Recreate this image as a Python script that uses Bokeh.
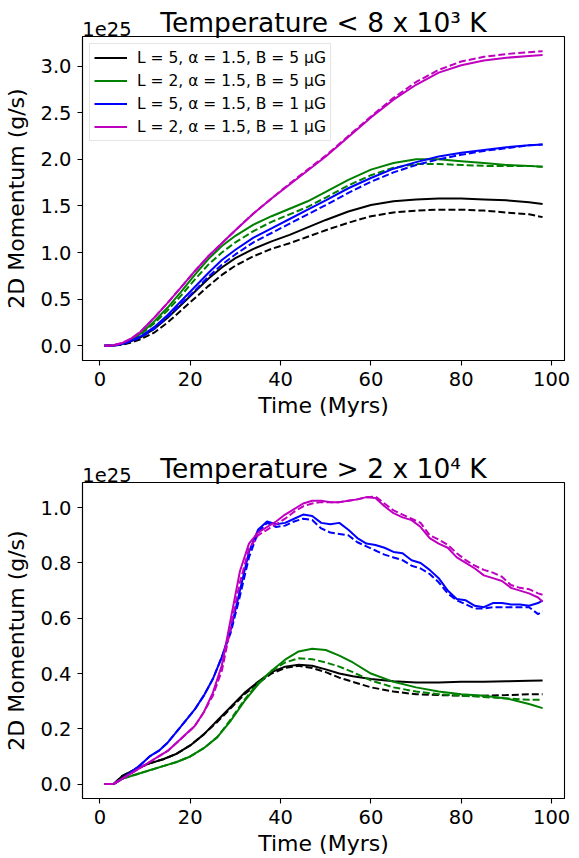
from bokeh.plotting import figure
from bokeh.models import (Range1d, FixedTicker, NumeralTickFormatter, Legend, LegendItem,
                          LinearAxis)
from bokeh.layouts import column
from bokeh.embed import file_html
from bokeh.resources import INLINE

# ---------------- data (units of 1e25 g/s) ----------------
series_labels = [
    "L = 5, α = 1.5, B = 5 μG",
    "L = 2, α = 1.5, B = 5 μG",
    "L = 5, α = 1.5, B = 1 μG",
    "L = 2, α = 1.5, B = 1 μG",
]
colors = ["#000000", "#008000", "#0000ff", "#bf00bf"]

x_ticks = [0, 20, 40, 60, 80, 100]
top_y_ticks = [0.0, 0.5, 1.0, 1.5, 2.0, 2.5, 3.0]
bot_y_ticks = [0.0, 0.2, 0.4, 0.6, 0.8, 1.0]
offset_text = "1e25"

# Top panel: Temperature < 8e3 K
t_top = [1, 3, 5, 7, 9, 12, 15, 18, 21, 24, 27, 30, 34, 38, 42, 46, 50, 55, 60, 65, 70, 75, 80, 85, 90, 95, 98]
top_k_solid = [0, 0.003, 0.018, 0.05, 0.09, 0.18, 0.3, 0.44, 0.58, 0.72, 0.84, 0.94, 1.04, 1.12, 1.19, 1.27, 1.35, 1.44, 1.51, 1.55, 1.57, 1.58, 1.58, 1.57, 1.56, 1.54, 1.52]
top_k_dash = [0, 0.002, 0.012, 0.035, 0.07, 0.14, 0.25, 0.38, 0.51, 0.64, 0.76, 0.86, 0.96, 1.04, 1.1, 1.17, 1.24, 1.32, 1.39, 1.43, 1.45, 1.46, 1.46, 1.45, 1.43, 1.41, 1.38]
top_g_solid = [0, 0.005, 0.025, 0.07, 0.13, 0.26, 0.41, 0.58, 0.76, 0.93, 1.07, 1.18, 1.3, 1.39, 1.47, 1.55, 1.65, 1.78, 1.89, 1.96, 2.0, 2.0, 1.98, 1.96, 1.94, 1.93, 1.92]
top_g_dash = [0, 0.004, 0.02, 0.06, 0.12, 0.24, 0.38, 0.54, 0.71, 0.87, 1.0, 1.11, 1.23, 1.33, 1.41, 1.49, 1.59, 1.72, 1.83, 1.91, 1.95, 1.95, 1.94, 1.93, 1.93, 1.93, 1.92]
top_b_solid = [0, 0.004, 0.02, 0.055, 0.1, 0.2, 0.33, 0.48, 0.63, 0.78, 0.92, 1.03, 1.16, 1.26, 1.36, 1.46, 1.56, 1.69, 1.8, 1.9, 1.97, 2.03, 2.07, 2.1, 2.13, 2.15, 2.16]
top_b_dash = [0, 0.003, 0.018, 0.05, 0.09, 0.18, 0.31, 0.45, 0.59, 0.74, 0.87, 0.98, 1.11, 1.21, 1.31, 1.41, 1.51, 1.64, 1.76, 1.86, 1.94, 2.0, 2.05, 2.09, 2.12, 2.15, 2.16]
top_m_solid = [0, 0.005, 0.03, 0.08, 0.15, 0.3, 0.46, 0.63, 0.8, 0.96, 1.1, 1.24, 1.42, 1.58, 1.73, 1.88, 2.03, 2.24, 2.45, 2.64, 2.8, 2.93, 3.01, 3.06, 3.09, 3.11, 3.12]
top_m_dash = [0, 0.005, 0.03, 0.08, 0.15, 0.3, 0.46, 0.63, 0.8, 0.96, 1.1, 1.24, 1.42, 1.58, 1.74, 1.89, 2.04, 2.25, 2.46, 2.66, 2.83, 2.96, 3.05, 3.1, 3.13, 3.15, 3.16]

# Bottom panel: Temperature > 2e4 K
t_bot_c = [1, 3, 5, 8, 11, 14, 17, 20, 23, 26, 29, 32, 35, 38, 41, 44, 47, 50, 53, 56, 60, 65, 70, 75, 80, 85, 90, 95, 98]
bot_k_solid = [0, 0, 0.03, 0.055, 0.075, 0.09, 0.11, 0.14, 0.18, 0.23, 0.28, 0.33, 0.37, 0.405, 0.425, 0.432, 0.428, 0.415, 0.4, 0.39, 0.38, 0.372, 0.368, 0.368, 0.37, 0.37, 0.372, 0.374, 0.375]
bot_k_dash = [0, 0, 0.03, 0.055, 0.075, 0.09, 0.11, 0.14, 0.18, 0.225, 0.275, 0.325, 0.365, 0.4, 0.42, 0.428, 0.42, 0.405, 0.385, 0.37, 0.35, 0.335, 0.325, 0.322, 0.32, 0.32, 0.322, 0.325, 0.325]
bot_g_solid = [0, 0, 0.02, 0.035, 0.05, 0.065, 0.08, 0.1, 0.13, 0.17, 0.23, 0.3, 0.36, 0.41, 0.45, 0.48, 0.49, 0.485, 0.465, 0.44, 0.4, 0.37, 0.35, 0.335, 0.325, 0.32, 0.31, 0.29, 0.275]
bot_g_dash = [0, 0, 0.02, 0.035, 0.05, 0.065, 0.08, 0.1, 0.13, 0.17, 0.235, 0.305, 0.365, 0.41, 0.44, 0.455, 0.452, 0.44, 0.425, 0.405, 0.375, 0.35, 0.335, 0.325, 0.32, 0.315, 0.31, 0.305, 0.305]

t_bot_f = [1, 3, 5, 7, 9, 11, 13, 15, 17, 19, 21, 23, 25, 27, 29, 31, 33, 35, 37, 39, 41, 43, 45, 47, 49,
           51, 53, 55, 57, 59, 61, 63, 65, 67, 69, 71, 73, 75, 77, 79, 81, 83, 85, 87, 89, 91, 93, 95, 97, 98]
bot_b_solid = [0, 0, 0.02, 0.045, 0.07, 0.1, 0.12, 0.15, 0.19, 0.23, 0.27, 0.32, 0.38, 0.46, 0.56, 0.7, 0.84, 0.92, 0.95, 0.94, 0.945, 0.96, 0.975, 0.97, 0.945,
               0.94, 0.945, 0.92, 0.89, 0.87, 0.865, 0.855, 0.84, 0.835, 0.81, 0.8, 0.775, 0.745, 0.7, 0.67, 0.665, 0.645, 0.64, 0.655, 0.655, 0.65, 0.65, 0.645, 0.655, 0.665]
bot_b_dash = [0, 0, 0.02, 0.045, 0.07, 0.1, 0.12, 0.15, 0.19, 0.23, 0.27, 0.32, 0.38, 0.46, 0.55, 0.68, 0.82, 0.91, 0.945, 0.93, 0.935, 0.95, 0.96, 0.955, 0.925,
              0.91, 0.905, 0.9, 0.875, 0.86, 0.845, 0.83, 0.82, 0.81, 0.79, 0.78, 0.76, 0.73, 0.69, 0.665, 0.65, 0.635, 0.635, 0.64, 0.64, 0.64, 0.64, 0.64, 0.615, 0.625]
bot_m_solid = [0, 0, 0.02, 0.04, 0.06, 0.08, 0.1, 0.12, 0.15, 0.18, 0.21, 0.26, 0.33, 0.43, 0.6, 0.77, 0.87, 0.91, 0.93, 0.95, 0.975, 0.995, 1.015, 1.025, 1.025,
               1.02, 1.02, 1.025, 1.03, 1.038, 1.035, 1.005, 0.98, 0.965, 0.955, 0.93, 0.89, 0.87, 0.855, 0.82, 0.8, 0.78, 0.755, 0.745, 0.735, 0.71, 0.7, 0.69, 0.675, 0.66]
bot_m_dash = [0, 0, 0.02, 0.04, 0.06, 0.08, 0.1, 0.12, 0.15, 0.18, 0.21, 0.26, 0.32, 0.41, 0.57, 0.73, 0.85, 0.9, 0.92, 0.94, 0.96, 0.985, 1.005, 1.015, 1.02,
              1.02, 1.02, 1.025, 1.03, 1.038, 1.04, 1.015, 0.99, 0.975, 0.96, 0.945, 0.9, 0.885, 0.865, 0.835, 0.81, 0.79, 0.775, 0.765, 0.75, 0.72, 0.71, 0.705, 0.69, 0.685]

FONT = "DejaVu Sans"
W = 579
X0, X1 = -3.85, 102.85
PX_PER_X = (564.3 - 81.7) / (X1 - X0)


def style_axis(ax, label_size="19.5px"):
    ax.axis_line_color = "#000000"
    ax.axis_line_width = 1.1
    ax.major_tick_line_color = "#000000"
    ax.major_tick_line_width = 1.1
    ax.major_tick_out = 5
    ax.major_tick_in = 0
    ax.minor_tick_line_color = None
    ax.major_label_text_font = FONT
    ax.major_label_text_font_size = label_size
    ax.major_label_text_color = "#000000"
    ax.axis_label_text_font = FONT
    ax.axis_label_text_font_size = "22px"
    ax.axis_label_text_font_style = "normal"
    ax.axis_label_text_color = "#000000"


def make_fig(height, border_top, border_bottom, title, yr, yticks):
    p = figure(width=W, height=height, output_backend="svg", toolbar_location=None,
               x_range=Range1d(X0, X1), y_range=Range1d(*yr),
               min_border_left=82, min_border_right=15,
               min_border_top=border_top, min_border_bottom=border_bottom)
    p.grid.visible = False
    p.outline_line_color = "#000000"
    p.outline_line_width = 1.1
    p.background_fill_color = "white"
    p.border_fill_color = "white"
    style_axis(p.xaxis[0])
    style_axis(p.yaxis[0])
    p.xaxis.ticker = FixedTicker(ticks=x_ticks)
    p.yaxis.ticker = FixedTicker(ticks=yticks)
    p.yaxis.formatter = NumeralTickFormatter(format="0.0")
    p.xaxis.axis_label = "Time (Myrs)"
    p.yaxis.axis_label = "2D Momentum (g/s)"
    p.xaxis.major_label_standoff = 6
    p.xaxis.axis_label_standoff = 4
    p.yaxis.major_label_standoff = 6
    p.yaxis.axis_label_standoff = 8

    # top "axis" carrying the offset text (left) and the title (centred)
    off_x = X0 + 24.5 / PX_PER_X
    top = LinearAxis(ticker=FixedTicker(ticks=[off_x]),
                     major_label_overrides={off_x: offset_text})
    style_axis(top)
    top.axis_line_color = None
    top.major_tick_line_color = None
    top.major_tick_out = 0
    top.major_label_standoff = 1
    top.axis_label = title
    top.axis_label_text_font_size = "26.5px"
    top.axis_label_standoff = -19
    p.add_layout(top, "above")
    return p


# ---------------- top panel ----------------
H1 = 425
p1 = make_fig(H1, 36, H1 - 360, "Temperature < 8 x 10³ K", (-0.158, 3.318), top_y_ticks)
top_solid = [top_k_solid, top_g_solid, top_b_solid, top_m_solid]
top_dash = [top_k_dash, top_g_dash, top_b_dash, top_m_dash]
items = []
for lab, c, ys, yd in zip(series_labels, colors, top_solid, top_dash):
    r = p1.line(t_top, ys, line_color=c, line_width=2)
    p1.line(t_top, yd, line_color=c, line_width=2, line_dash="7 3")
    items.append(LegendItem(label=lab, renderers=[r]))

legend = Legend(items=items, location="top_left")
legend.margin = 7
legend.padding = 4
legend.spacing = 4
legend.glyph_width = 33
legend.glyph_height = 19
legend.label_height = 19
legend.label_standoff = 10
legend.label_text_font = FONT
legend.label_text_font_size = "15.5px"
legend.label_text_color = "#000000"
legend.border_line_color = "#cccccc"
legend.border_line_width = 1
legend.background_fill_alpha = 0.8
p1.add_layout(legend, "center")

# ---------------- bottom panel ----------------
H2 = 858 - H1
p2 = make_fig(H2, 482 - H1, 858 - 802, "Temperature > 2 x 10⁴ K", (-0.052, 1.091), bot_y_ticks)
for c, ys, yd in zip(colors[:2], [bot_k_solid, bot_g_solid], [bot_k_dash, bot_g_dash]):
    p2.line(t_bot_c, ys, line_color=c, line_width=2)
    p2.line(t_bot_c, yd, line_color=c, line_width=2, line_dash="7 3")
for c, ys, yd in zip(colors[2:], [bot_b_solid, bot_m_solid], [bot_b_dash, bot_m_dash]):
    p2.line(t_bot_f, ys, line_color=c, line_width=2)
    p2.line(t_bot_f, yd, line_color=c, line_width=2, line_dash="7 3")

layout = column(p1, p2, spacing=0)
open("out.html", "w").write(file_html(layout, INLINE))
